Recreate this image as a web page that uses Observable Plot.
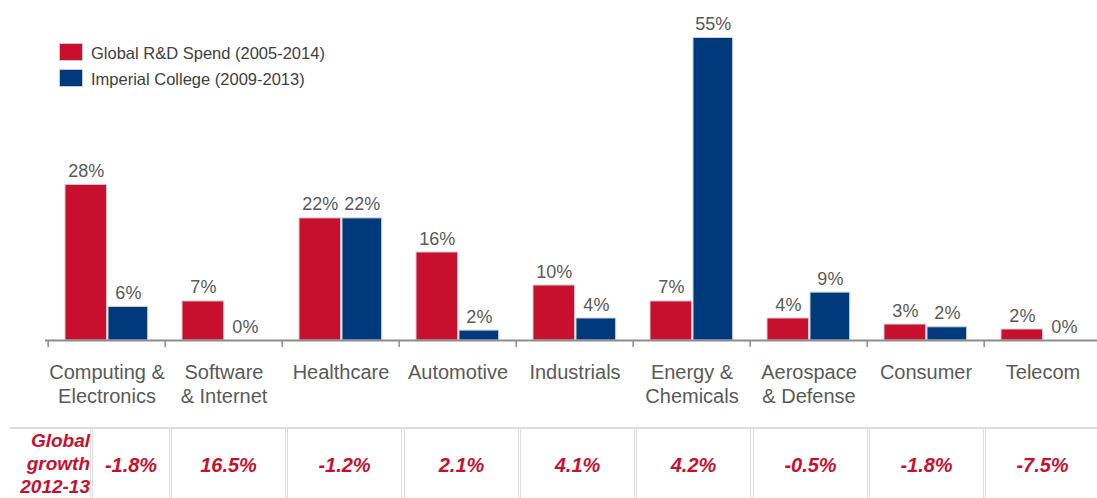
<!DOCTYPE html>
<html><head><meta charset="utf-8">
<script src="https://cdn.jsdelivr.net/npm/d3@7"></script>
<script src="https://cdn.jsdelivr.net/npm/@observablehq/plot@0.6"></script>
<style>
html,body{margin:0;padding:0;background:#fff;overflow:hidden;}
#wrap{position:relative;width:1097px;height:498px;overflow:hidden;font-family:"Liberation Sans",Arial,sans-serif;}
#wrap svg{position:absolute;left:0;top:0;max-width:none !important;}
.legend{position:absolute;left:59px;top:43px;}
.lrow{display:flex;align-items:center;height:18px;margin-bottom:8px;}
.sw{width:22px;height:16px;border:1px solid #c8c8c8;margin-right:8px;}
.ltxt{font-size:16.5px;line-height:18px;color:#404040;padding-top:2px;white-space:nowrap;}
.topline{position:absolute;left:10px;top:427px;width:1087px;height:0;border-top:2px solid #dcdcdc;}
.cell{position:absolute;top:429px;height:69px;box-sizing:border-box;border-left:1px solid #dcdcdc;border-right:1px solid #dcdcdc;
  color:#C8102E;font-weight:bold;font-style:italic;font-size:20px;line-height:24px;text-align:center;padding-top:24px;}
.lcell{position:absolute;top:429px;left:10px;width:81px;height:69px;box-sizing:border-box;border-right:1px solid #dcdcdc;
  color:#C8102E;font-weight:bold;font-style:italic;font-size:19px;line-height:23px;text-align:right;white-space:pre;}
</style></head><body><div id="wrap"></div>
<script>
const categories = ["Computing &\nElectronics", "Software\n& Internet", "Healthcare", "Automotive", "Industrials", "Energy &\nChemicals", "Aerospace\n& Defense", "Consumer", "Telecom"];
const globalSpend = [28.3, 7.1, 22.2, 16.0, 10.0, 7.1, 4.0, 2.9, 2.0];
const imperialSpend = [6.1, 0, 22.2, 1.8, 4.0, 55, 8.7, 2.4, 0];
const growth = [-1.8, 16.5, -1.2, 2.1, 4.1, 4.2, -0.5, -1.8, -7.5];
const seriesNames = ["Global R&D Spend (2005-2014)", "Imperial College (2009-2013)"];
const seriesColors = ["#C8102E", "#003A7D"];
const growthLabel = "Global\ngrowth\n2012-13";

const gRows = categories.map((c, i) => ({cat: c, value: globalSpend[i]}));
const iRows = categories.map((c, i) => ({cat: c, value: imperialSpend[i]}));

const W = 1104, ML = 45, MR = 0;
const step = (W - ML - MR) / categories.length;
const pct = d => Math.round(d.value) + "%";

const chart = Plot.plot({
  width: W, height: 428,
  marginLeft: ML, marginRight: MR, marginTop: 37.5, marginBottom: 88,
  style: {fontFamily: '"Liberation Sans", Arial, sans-serif', color: "#595959", background: "transparent", maxWidth: "none"},
  x: {domain: categories, padding: 0},
  y: {domain: [0, 55], axis: null},
  marks: [
    Plot.barY(gRows, {x: "cat", y: "value", fill: seriesColors[0], stroke: "#d0d0d0", strokeWidth: 1, insetLeft: 17, insetRight: step - 59.3}),
    Plot.barY(iRows, {x: "cat", y: "value", fill: seriesColors[1], stroke: "#d0d0d0", strokeWidth: 1, insetLeft: 60, insetRight: step - 100.3}),
    Plot.text(gRows, {x: "cat", y: "value", text: pct, dx: 38.2 - step / 2, dy: -8, lineAnchor: "bottom", fontSize: 18, fill: "#595959"}),
    Plot.text(iRows, {x: "cat", y: "value", text: pct, dx: 80.2 - step / 2, dy: -8, lineAnchor: "bottom", fontSize: 18, fill: "#595959"}),
    Plot.ruleY([0], {stroke: "#8c8c8c", strokeWidth: 2}),
    Plot.axisX({tickSize: 7, tickFormat: () => "", dx: -step / 2, stroke: "#8c8c8c", strokeWidth: 1.5, strokeOpacity: 1, label: null}),
    Plot.axisX({tickSize: 0, tickPadding: 22, fontSize: 20, lineHeight: 1.17, fill: "#595959", label: null})
  ]
});

const wrap = document.getElementById("wrap");
wrap.appendChild(chart);

// legend
const leg = document.createElement("div");
leg.className = "legend";
seriesNames.forEach((n, i) => {
  const r = document.createElement("div"); r.className = "lrow";
  const s = document.createElement("div"); s.className = "sw"; s.style.background = seriesColors[i];
  const t = document.createElement("div"); t.className = "ltxt"; t.textContent = n;
  r.appendChild(s); r.appendChild(t); leg.appendChild(r);
});
wrap.appendChild(leg);

// growth table
const tl = document.createElement("div"); tl.className = "topline"; wrap.appendChild(tl);
const lc = document.createElement("div"); lc.className = "lcell"; lc.textContent = growthLabel; wrap.appendChild(lc);
growth.forEach((g, i) => {
  const c = document.createElement("div"); c.className = "cell";
  const left = i === 0 ? 92 : Math.round(171 + (i - 1) * 116.3);
  const w = i === 0 ? 78 : 115;
  c.style.left = left + "px"; c.style.width = w + "px";
  c.textContent = g.toFixed(1) + "%";
  wrap.appendChild(c);
});
</script></body></html>
